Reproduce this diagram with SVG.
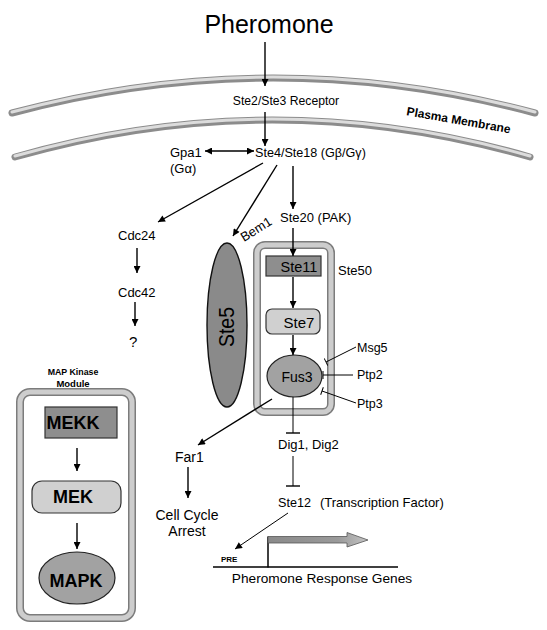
<svg xmlns="http://www.w3.org/2000/svg" width="547" height="630" viewBox="0 0 547 630">
<style>
text{font-family:"Liberation Sans",Arial,sans-serif;fill:#000}
.t13{font-size:13px}
.t14{font-size:14px}
.b{font-weight:bold}
.ln{stroke:#000;stroke-width:1.4;fill:none}
.thin{stroke:#000;stroke-width:1;fill:none}
.memo{fill:none;stroke:#8c8c8c;stroke-width:7;stroke-linecap:round}
.memi{fill:none;stroke:#dcdcdc;stroke-width:3;stroke-linecap:round}
.boxo{fill:#fff;stroke:#7c7c7c;stroke-width:8}
.boxi{fill:none;stroke:#cdcdcd;stroke-width:5}
.dark{fill:#8e8e8e;stroke:#333;stroke-width:1.2}
.light{fill:#d0d0d0;stroke:#333;stroke-width:1.2}
.mid{fill:#a2a2a2;stroke:#222;stroke-width:1.2}
</style>
<defs>
<marker id="ah" viewBox="0 0 10 10" refX="10" refY="5" markerWidth="9" markerHeight="7" markerUnits="userSpaceOnUse" orient="auto-start-reverse"><path d="M0,0 L10,5 L0,10 z" fill="#000"/></marker>
<marker id="tee" viewBox="0 0 2 14" refX="1" refY="7" markerWidth="2" markerHeight="14" markerUnits="userSpaceOnUse" orient="auto"><line x1="1" y1="0" x2="1" y2="14" stroke="#000" stroke-width="1.4"/></marker>
<marker id="tees" viewBox="0 0 2 8" refX="1" refY="4" markerWidth="2" markerHeight="8" markerUnits="userSpaceOnUse" orient="auto"><line x1="1" y1="0" x2="1" y2="8" stroke="#000" stroke-width="1"/></marker>
<linearGradient id="gg" x1="0" y1="0" x2="1" y2="0"><stop offset="0" stop-color="#8a8a8a"/><stop offset="0.7" stop-color="#9a9a9a"/><stop offset="1" stop-color="#c4c4c4"/></linearGradient>
</defs>

<g id="membrane">
<path class="memo" d="M12,113 Q273,43 535,113"/>
<path class="memi" d="M12,112 Q273,42 535,112"/>
<path class="memo" d="M15,157 Q272,83 530,157"/>
<path class="memi" d="M15,156 Q272,82 530,156"/>
<text class="b" font-size="12" transform="translate(406,115) rotate(10)">Plasma Membrane</text>
</g>

<g id="pheromone"><text x="269" y="33" font-size="25" text-anchor="middle">Pheromone</text></g>
<g id="receptor"><text x="286" y="105" font-size="12.2" text-anchor="middle">Ste2/Ste3 Receptor</text></g>
<g id="ste4"><text x="255" y="157" font-size="12.6">Ste4/Ste18 (Gβ/Gγ)</text></g>
<g id="gpa1"><text class="t13" x="170" y="157">Gpa1</text><text class="t13" x="170" y="173">(Gα)</text></g>
<g id="cdc24"><text class="t13" x="118" y="240">Cdc24</text></g>
<g id="cdc42"><text class="t13" x="118" y="297">Cdc42</text></g>
<g id="unknown"><text x="129" y="347" font-size="15">?</text></g>
<g id="bem1"><text class="t13" transform="translate(244,242) rotate(-32)">Bem1</text></g>
<g id="ste20"><text class="t13" x="280" y="222">Ste20 (PAK)</text></g>

<g id="ste50">
<rect class="boxo" x="257" y="245" width="74" height="167" rx="8"/>
<rect class="boxi" x="257" y="245" width="74" height="167" rx="8"/>
<text class="t13" x="338" y="275">Ste50</text>
</g>
<g id="ste5">
<ellipse cx="227" cy="325" rx="20" ry="82" fill="#8a8a8a" stroke="#111" stroke-width="1.4"/>
<text font-size="22" text-anchor="middle" textLength="40" lengthAdjust="spacingAndGlyphs" transform="translate(234,327) rotate(-90)">Ste5</text>
</g>
<g id="ste11"><rect class="dark" x="266" y="256" width="55" height="20"/><text x="299" y="272" font-size="14.5" text-anchor="middle">Ste11</text></g>
<g id="ste7"><rect class="light" x="266" y="309" width="54" height="25" rx="6"/><text x="299" y="328" font-size="15" text-anchor="middle">Ste7</text></g>
<g id="fus3"><ellipse class="mid" cx="294.5" cy="376" rx="27.5" ry="21"/><text x="297" y="382" font-size="14" text-anchor="middle">Fus3</text></g>
<g id="msg5"><text x="357" y="352" font-size="12.5">Msg5</text></g>
<g id="ptp2"><text x="357" y="379" font-size="12.5">Ptp2</text></g>
<g id="ptp3"><text x="357" y="408" font-size="12.5">Ptp3</text></g>
<g id="dig"><text class="t13" x="278" y="449">Dig1, Dig2</text></g>
<g id="far1"><text class="t14" x="175" y="462">Far1</text></g>
<g id="arrest"><text class="t14" x="187" y="520" text-anchor="middle">Cell Cycle</text><text class="t14" x="187" y="536" text-anchor="middle">Arrest</text></g>
<g id="ste12"><text font-size="12.6" x="278" y="507">Ste12</text><text class="t13" x="320" y="507">(Transcription Factor)</text></g>

<g id="gene">
<text class="b" font-size="8" x="221" y="562">PRE</text>
<line x1="213" y1="567" x2="398" y2="567" stroke="#000" stroke-width="1.5"/>
<line x1="268" y1="567.5" x2="268" y2="536.5" stroke="#000" stroke-width="1.5"/>
<path d="M268,536.5 H347 V532.5 L368,540 L347,547 V543 H268 Z" fill="url(#gg)" stroke="#555" stroke-width="0.8"/>
<text x="322" y="583" font-size="13.7" text-anchor="middle">Pheromone Response Genes</text>
</g>

<g id="mapmodule">
<text class="b" font-size="8.8" x="73" y="375" text-anchor="middle">MAP Kinase</text>
<text class="b" font-size="9.5" x="73" y="387" text-anchor="middle">Module</text>
<rect class="boxo" x="20" y="392" width="112" height="226" rx="10"/>
<rect class="boxi" x="20" y="392" width="112" height="226" rx="10"/>
</g>
<g id="mekk"><rect class="dark" x="45" y="407" width="72" height="31"/><text class="b" font-size="18" x="73" y="429" text-anchor="middle">MEKK</text></g>
<g id="mek"><rect class="light" x="32" y="481" width="89" height="32" rx="10"/><text class="b" font-size="18" x="73" y="503" text-anchor="middle">MEK</text></g>
<g id="mapk"><ellipse class="mid" cx="77" cy="578" rx="38" ry="26"/><text class="b" font-size="18" x="76" y="587" text-anchor="middle">MAPK</text></g>

<g id="connectors">
<line class="ln" x1="265" y1="42" x2="265" y2="86" marker-end="url(#ah)"/>
<line class="ln" x1="265" y1="112" x2="265" y2="146" marker-end="url(#ah)"/>
<line class="ln" x1="205" y1="151" x2="254" y2="151" marker-start="url(#ah)" marker-end="url(#ah)"/>
<line class="ln" x1="263" y1="163" x2="158" y2="222" marker-end="url(#ah)"/>
<line class="ln" x1="277" y1="165" x2="233" y2="236" marker-end="url(#ah)"/>
<line class="ln" x1="293" y1="166" x2="293" y2="209" marker-end="url(#ah)"/>
<line class="ln" x1="137" y1="248" x2="137" y2="273" marker-end="url(#ah)"/>
<line class="ln" x1="135" y1="302" x2="135" y2="326" marker-end="url(#ah)"/>
<line class="ln" x1="293" y1="228" x2="293" y2="256" marker-end="url(#ah)"/>
<line class="ln" x1="293" y1="277" x2="293" y2="308" marker-end="url(#ah)"/>
<line class="ln" x1="293" y1="335" x2="293" y2="355" marker-end="url(#ah)"/>
<line class="thin" x1="356" y1="347" x2="326" y2="362" marker-end="url(#tees)"/>
<line class="thin" x1="353" y1="375" x2="323" y2="375" marker-end="url(#tees)"/>
<line class="thin" x1="356" y1="403" x2="322" y2="391" marker-end="url(#tees)"/>
<line class="ln" x1="272" y1="399" x2="198" y2="445" marker-end="url(#ah)"/>
<line class="thin" x1="293" y1="397" x2="293" y2="433" marker-end="url(#tee)"/>
<line class="thin" x1="293" y1="456" x2="293" y2="486" marker-end="url(#tee)"/>
<line class="ln" x1="188" y1="467" x2="188" y2="498" marker-end="url(#ah)"/>
<line class="thin" x1="288" y1="513" x2="235" y2="549" marker-end="url(#ah)"/>
<line class="ln" x1="77" y1="448" x2="77" y2="471" marker-end="url(#ah)"/>
<line class="ln" x1="77" y1="523" x2="77" y2="549" marker-end="url(#ah)"/>
</g>
</svg>
